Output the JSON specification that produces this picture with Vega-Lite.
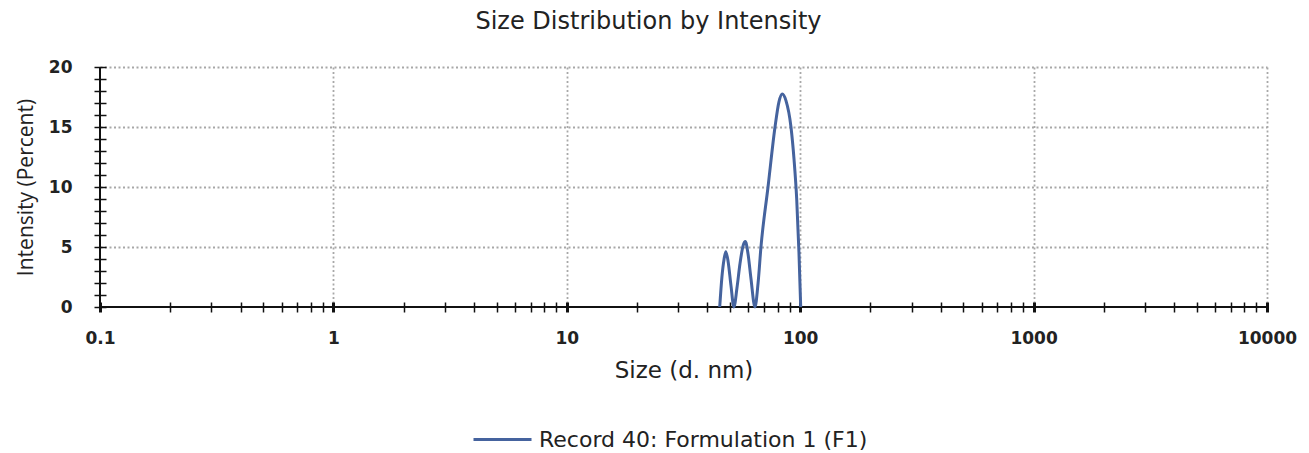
{
  "$schema": "https://vega.github.io/schema/vega-lite/v6.json",
  "width": 1167,
  "height": 240,
  "autosize": {"type": "none"},
  "padding": {"left": 100, "top": 67, "right": 42, "bottom": 146},
  "background": "white",
  "config": {"view": {"stroke": null}},
  "title": {
    "text": "Size Distribution by Intensity",
    "font": "DejaVu Sans",
    "fontSize": 24,
    "fontWeight": "normal",
    "color": "#222222",
    "anchor": "middle",
    "dx": -35,
    "offset": 24
  },
  "data": {
    "values": [
      {"size": 45.2, "intensity": 0, "series": "Record 40: Formulation 1 (F1)"},
      {"size": 46.2, "intensity": 2.5, "series": "Record 40: Formulation 1 (F1)"},
      {"size": 47.2, "intensity": 4.0, "series": "Record 40: Formulation 1 (F1)"},
      {"size": 48.0, "intensity": 4.6, "series": "Record 40: Formulation 1 (F1)"},
      {"size": 49.1, "intensity": 3.8, "series": "Record 40: Formulation 1 (F1)"},
      {"size": 50.5, "intensity": 1.8, "series": "Record 40: Formulation 1 (F1)"},
      {"size": 52.0, "intensity": 0, "series": "Record 40: Formulation 1 (F1)"},
      {"size": 53.6, "intensity": 1.6, "series": "Record 40: Formulation 1 (F1)"},
      {"size": 55.2, "intensity": 3.6, "series": "Record 40: Formulation 1 (F1)"},
      {"size": 56.9, "intensity": 5.1, "series": "Record 40: Formulation 1 (F1)"},
      {"size": 58.2, "intensity": 5.45, "series": "Record 40: Formulation 1 (F1)"},
      {"size": 59.8, "intensity": 4.4, "series": "Record 40: Formulation 1 (F1)"},
      {"size": 61.5, "intensity": 2.4, "series": "Record 40: Formulation 1 (F1)"},
      {"size": 64.0, "intensity": 0, "series": "Record 40: Formulation 1 (F1)"},
      {"size": 66.0, "intensity": 2.0, "series": "Record 40: Formulation 1 (F1)"},
      {"size": 67.9, "intensity": 5.0, "series": "Record 40: Formulation 1 (F1)"},
      {"size": 72.8, "intensity": 10.0, "series": "Record 40: Formulation 1 (F1)"},
      {"size": 78.0, "intensity": 15.0, "series": "Record 40: Formulation 1 (F1)"},
      {"size": 81.1, "intensity": 17.1, "series": "Record 40: Formulation 1 (F1)"},
      {"size": 83.8, "intensity": 17.75, "series": "Record 40: Formulation 1 (F1)"},
      {"size": 86.9, "intensity": 17.2, "series": "Record 40: Formulation 1 (F1)"},
      {"size": 91.3, "intensity": 15.0, "series": "Record 40: Formulation 1 (F1)"},
      {"size": 94.1, "intensity": 12.3, "series": "Record 40: Formulation 1 (F1)"},
      {"size": 96.6, "intensity": 9.0, "series": "Record 40: Formulation 1 (F1)"},
      {"size": 98.8, "intensity": 4.5, "series": "Record 40: Formulation 1 (F1)"},
      {"size": 100.5, "intensity": 0, "series": "Record 40: Formulation 1 (F1)"}
    ]
  },
  "layer": [
    {
      "mark": {"type": "rule", "color": "#111111", "strokeWidth": 1.8},
      "encoding": {
        "y": {
          "datum": 0,
          "type": "quantitative",
          "scale": {"domain": [0, 20], "nice": false},
          "axis": {
            "title": "Intensity (Percent)",
            "titleFont": "Open Sans",
            "titleFontSize": 21,
            "titleFontWeight": "normal",
            "titleColor": "#222222",
            "titlePadding": 12,
            "values": [0, 1, 2, 3, 4, 5, 6, 7, 8, 9, 10, 11, 12, 13, 14, 15, 16, 17, 18, 19, 20],
            "labelExpr": "datum.value % 5 === 0 ? datum.value + '' : ''",
            "labelOverlap": false,
            "labelFlush": false,
            "labelFont": "DejaVu Sans",
            "labelFontWeight": "bold",
            "labelFontSize": 17,
            "labelColor": "#222222",
            "labelPadding": 22,
            "domain": false,
            "offset": -6,
            "tickSize": 12,
            "tickColor": "#111111",
            "tickWidth": 1.5,
            "grid": true,
            "gridColor": "#a8a8a8",
            "gridWidth": 1.8,
            "gridDash": [2, 2.5],
            "gridOpacity": {"condition": {"test": "datum.value % 5 === 0 && datum.value > 0", "value": 1}, "value": 0}
          }
        }
      }
    },
    {
      "mark": {"type": "rule", "color": "#111111", "strokeWidth": 1.8},
      "encoding": {
        "x": {
          "datum": 0.1,
          "type": "quantitative",
          "scale": {"type": "log", "domain": [0.1, 10000], "nice": false},
          "axis": {
            "title": "Size (d. nm)",
            "titleFont": "DejaVu Sans",
            "titleFontSize": 23,
            "titleFontWeight": "normal",
            "titleColor": "#222222",
            "titlePadding": 13,
            "values": [0.1, 0.2, 0.3, 0.4, 0.5, 0.6, 0.7, 0.8, 0.9, 1, 2, 3, 4, 5, 6, 7, 8, 9, 10, 20, 30, 40, 50, 60, 70, 80, 90, 100, 200, 300, 400, 500, 600, 700, 800, 900, 1000, 2000, 3000, 4000, 5000, 6000, 7000, 8000, 9000, 10000],
            "labelExpr": "indexof([0.1, 1, 10, 100, 1000, 10000], datum.value) >= 0 ? datum.value + '' : ''",
            "labelOverlap": false,
            "labelFlush": false,
            "labelFont": "DejaVu Sans",
            "labelFontWeight": "bold",
            "labelFontSize": 17,
            "labelColor": "#222222",
            "labelPadding": 18,
            "domain": false,
            "offset": -5,
            "tickSize": 10,
            "tickColor": "#111111",
            "tickWidth": {"condition": {"test": "indexof([0.1, 1, 10, 100, 1000, 10000], datum.value) >= 0", "value": 3}, "value": 1.5},
            "grid": true,
            "gridColor": "#a8a8a8",
            "gridWidth": 1.8,
            "gridDash": [2, 2.5],
            "gridOpacity": {"condition": {"test": "indexof([1, 10, 100, 1000, 10000], datum.value) >= 0", "value": 1}, "value": 0}
          }
        }
      }
    },
    {
      "mark": {"type": "line", "interpolate": "monotone", "strokeWidth": 3},
      "encoding": {
        "x": {
          "field": "size",
          "type": "quantitative",
          "scale": {"type": "log", "domain": [0.1, 10000], "nice": false},
          "axis": {
            "title": "Size (d. nm)",
            "titleFont": "DejaVu Sans",
            "titleFontSize": 23,
            "titleFontWeight": "normal",
            "titleColor": "#222222",
            "titlePadding": 13,
            "values": [0.1, 0.2, 0.3, 0.4, 0.5, 0.6, 0.7, 0.8, 0.9, 1, 2, 3, 4, 5, 6, 7, 8, 9, 10, 20, 30, 40, 50, 60, 70, 80, 90, 100, 200, 300, 400, 500, 600, 700, 800, 900, 1000, 2000, 3000, 4000, 5000, 6000, 7000, 8000, 9000, 10000],
            "labelExpr": "indexof([0.1, 1, 10, 100, 1000, 10000], datum.value) >= 0 ? datum.value + '' : ''",
            "labelOverlap": false,
            "labelFlush": false,
            "labelFont": "DejaVu Sans",
            "labelFontWeight": "bold",
            "labelFontSize": 17,
            "labelColor": "#222222",
            "labelPadding": 18,
            "domain": false,
            "offset": -5,
            "tickSize": 10,
            "tickColor": "#111111",
            "tickWidth": {"condition": {"test": "indexof([0.1, 1, 10, 100, 1000, 10000], datum.value) >= 0", "value": 3}, "value": 1.5},
            "grid": true,
            "gridColor": "#a8a8a8",
            "gridWidth": 1.8,
            "gridDash": [2, 2.5],
            "gridOpacity": {"condition": {"test": "indexof([1, 10, 100, 1000, 10000], datum.value) >= 0", "value": 1}, "value": 0}
          }
        },
        "y": {
          "field": "intensity",
          "type": "quantitative",
          "scale": {"domain": [0, 20], "nice": false},
          "axis": {
            "title": "Intensity (Percent)",
            "titleFont": "Open Sans",
            "titleFontSize": 21,
            "titleFontWeight": "normal",
            "titleColor": "#222222",
            "titlePadding": 12,
            "values": [0, 1, 2, 3, 4, 5, 6, 7, 8, 9, 10, 11, 12, 13, 14, 15, 16, 17, 18, 19, 20],
            "labelExpr": "datum.value % 5 === 0 ? datum.value + '' : ''",
            "labelOverlap": false,
            "labelFlush": false,
            "labelFont": "DejaVu Sans",
            "labelFontWeight": "bold",
            "labelFontSize": 17,
            "labelColor": "#222222",
            "labelPadding": 22,
            "domain": false,
            "offset": -6,
            "tickSize": 12,
            "tickColor": "#111111",
            "tickWidth": 1.5,
            "grid": true,
            "gridColor": "#a8a8a8",
            "gridWidth": 1.8,
            "gridDash": [2, 2.5],
            "gridOpacity": {"condition": {"test": "datum.value % 5 === 0 && datum.value > 0", "value": 1}, "value": 0}
          }
        },
        "color": {
          "field": "series",
          "type": "nominal",
          "scale": {"range": ["#45639e"]},
          "legend": {
            "title": null,
            "orient": "none",
            "legendX": 372,
            "legendY": 342,
            "symbolType": "stroke",
            "symbolSize": 3364,
            "symbolStrokeWidth": 3,
            "labelFont": "DejaVu Sans",
            "labelFontSize": 22,
            "labelLimit": 600,
            "labelColor": "#222222",
            "labelOffset": 6
          }
        }
      }
    }
  ]
}
